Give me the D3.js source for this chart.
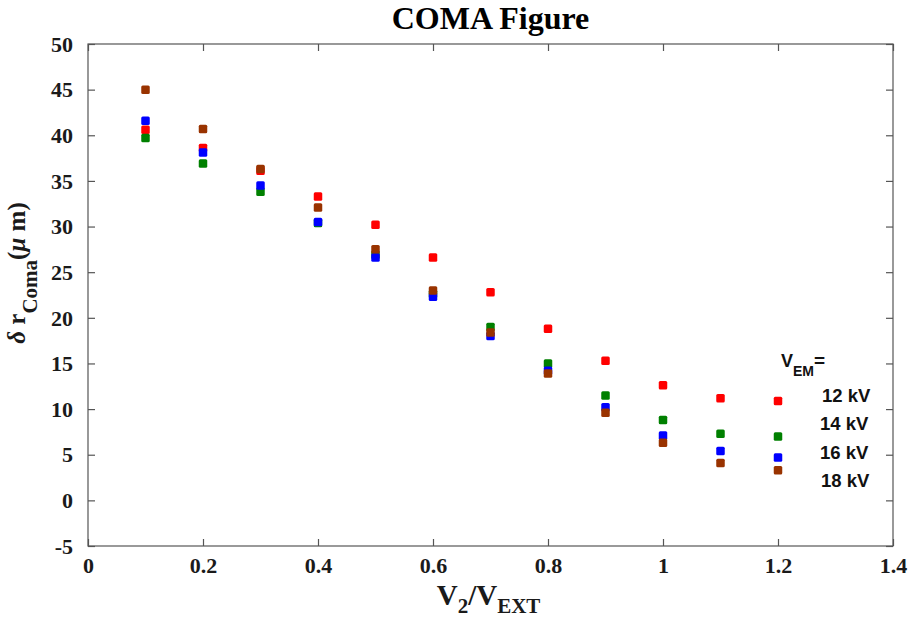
<!DOCTYPE html>
<html>
<head>
<meta charset="utf-8">
<script src="https://cdn.jsdelivr.net/npm/d3@7"></script>
<style>
  html, body { margin: 0; padding: 0; background: #fff; }
  svg { display: block; }
</style>
</head>
<body>
<svg id="chart" width="911" height="620"></svg>
<script>
// ---- data ----
const ratios = [0.1, 0.2, 0.3, 0.4, 0.5, 0.6, 0.7, 0.8, 0.9, 1.0, 1.1, 1.2];
const coma12kV = [40.6, 38.6, 36.1, 33.3, 30.2, 26.6, 22.8, 18.8, 15.3, 12.6, 11.2, 10.9];
const coma14kV = [39.7, 36.9, 33.8, 30.4, 26.9, 22.6, 19.0, 15.0, 11.5, 8.8, 7.3, 7.0];
const coma16kV = [41.6, 38.1, 34.5, 30.5, 26.6, 22.3, 18.0, 14.2, 10.2, 7.1, 5.4, 4.7];
const coma18kV = [45.0, 40.7, 36.3, 32.1, 27.5, 23.0, 18.4, 13.9, 9.6, 6.3, 4.1, 3.3];
const seriesNames = ["12 kV", "14 kV", "16 kV", "18 kV"];
const seriesColors = ["#ff0000", "#008000", "#0000ff", "#993300"];
const xTicks = [0, 0.2, 0.4, 0.6, 0.8, 1, 1.2, 1.4];
const yTicks = [-5, 0, 5, 10, 15, 20, 25, 30, 35, 40, 45, 50];

const series = [coma12kV, coma14kV, coma16kV, coma18kV].map((vals, i) => ({
  name: seriesNames[i], color: seriesColors[i],
  points: ratios.map((r, j) => ({ x: r, y: vals[j] }))
}));

// ---- layout ----
const svg = d3.select("#chart");
const L = 88, R = 893, T = 44, B = 546;
const x = d3.scaleLinear().domain([0, 1.4]).range([L, R]);
const y = d3.scaleLinear().domain([-5, 50]).range([B, T]);

const serif = "'Liberation Serif', 'Times New Roman', serif";
const sans = "'Liberation Sans', Arial, sans-serif";
const axisColor = "#555";
const tickLen = 7;

// box
svg.append("rect").attr("x", L).attr("y", T).attr("width", R - L).attr("height", B - T)
  .attr("fill", "none").attr("stroke", axisColor).attr("stroke-width", 1.2);

// axes with inward ticks
const gx = svg.append("g").attr("transform", `translate(0,${B})`)
  .call(d3.axisBottom(x).tickValues(xTicks).tickSizeInner(-tickLen).tickSizeOuter(0)
    .tickPadding(tickLen + 7).tickFormat(d => String(+d.toFixed(1))));
const gxTop = svg.append("g").attr("transform", `translate(0,${T})`)
  .call(d3.axisTop(x).tickValues(xTicks).tickSizeInner(-tickLen).tickSizeOuter(0).tickFormat(""));
const gy = svg.append("g").attr("transform", `translate(${L},0)`)
  .call(d3.axisLeft(y).tickValues(yTicks).tickSizeInner(-tickLen).tickSizeOuter(0)
    .tickPadding(tickLen + 8).tickFormat(d => String(d)));
const gyR = svg.append("g").attr("transform", `translate(${R},0)`)
  .call(d3.axisRight(y).tickValues(yTicks).tickSizeInner(-tickLen).tickSizeOuter(0).tickFormat(""));

[gx, gxTop, gy, gyR].forEach(g => {
  g.select(".domain").remove();
  g.selectAll(".tick line").attr("stroke", axisColor).attr("stroke-width", 1.2);
  g.selectAll(".tick text").attr("fill", "#1a1a1a").attr("font-family", serif)
    .attr("font-weight", "bold").attr("font-size", 22);
});
gx.selectAll(".tick text").attr("dy", null).attr("y", null)
  .attr("transform", "translate(0,27)");
gy.selectAll(".tick text").attr("dy", "0.33em");

// markers
const ms = 8.5;
series.forEach(s => {
  svg.append("g").selectAll("rect").data(s.points).join("rect")
    .attr("x", d => x(d.x) - ms / 2).attr("y", d => y(d.y) - ms / 2)
    .attr("width", ms).attr("height", ms).attr("rx", 1.5)
    .attr("fill", s.color);
});

// title
svg.append("text").attr("x", (L + R) / 2).attr("y", 29).attr("text-anchor", "middle")
  .attr("font-family", serif).attr("font-weight", "bold").attr("font-size", 32)
  .attr("fill", "#000").text("COMA Figure");

// x label
const xl = svg.append("text").attr("x", (L + R) / 2 - 2).attr("y", 605).attr("text-anchor", "middle")
  .attr("font-family", serif).attr("font-weight", "bold").attr("font-size", 29).attr("fill", "#1a1a1a");
xl.append("tspan").text("V");
xl.append("tspan").attr("font-size", 21).attr("dy", 8).text("2");
xl.append("tspan").attr("dy", -8).text("/V");
xl.append("tspan").attr("font-size", 21).attr("dy", 8).text("EXT");

// y label
const yl = svg.append("text").attr("transform", "translate(25,273) rotate(-90)")
  .attr("text-anchor", "middle").attr("font-family", serif).attr("font-weight", "bold")
  .attr("font-size", 25).attr("fill", "#1a1a1a");
yl.append("tspan").attr("font-style", "italic").text("δ");
yl.append("tspan").text(" r");
yl.append("tspan").attr("font-size", 21).attr("dy", 12).text("Coma");
yl.append("tspan").attr("dy", -12).text("(");
yl.append("tspan").attr("font-style", "italic").text("μ");
yl.append("tspan").text(" m)");

// legend annotation
const lg = svg.append("g").attr("font-family", sans).attr("font-weight", "bold").attr("fill", "#111");
const vem = lg.append("text").attr("x", 781).attr("y", 367).attr("font-size", 18);
vem.append("tspan").text("V");
vem.append("tspan").attr("font-size", 14).attr("dy", 9).text("EM");
vem.append("tspan").attr("dy", -9).attr("font-size", 19).text("=");
const legendX = [822, 820, 820, 821];
const legendY = [402, 430, 459, 487];
seriesNames.forEach((n, i) => {
  lg.append("text").attr("x", legendX[i]).attr("y", legendY[i]).attr("font-size", 18.5).text(n);
});
</script>
</body>
</html>
